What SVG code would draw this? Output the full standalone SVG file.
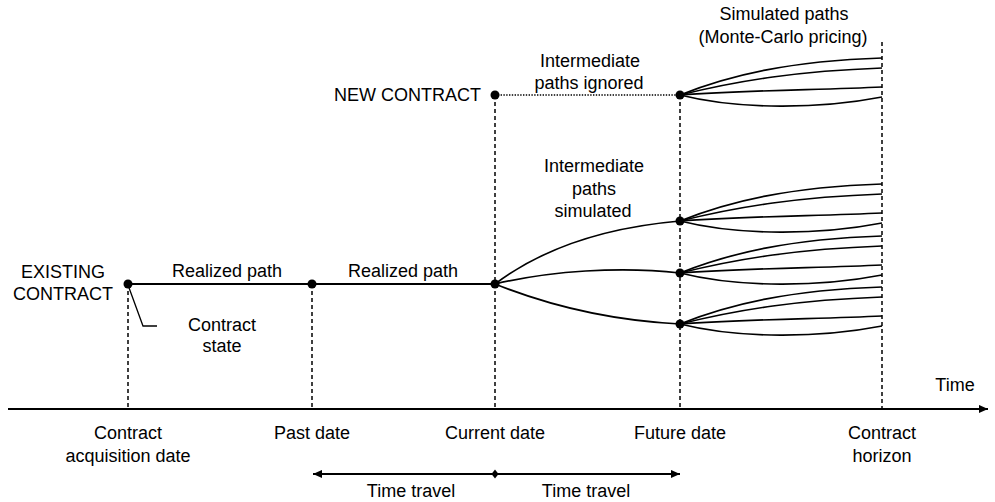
<svg xmlns="http://www.w3.org/2000/svg" xmlns:xlink="http://www.w3.org/1999/xlink" width="995" height="502" viewBox="0 0 995 502">
<style>
text{font-family:"Liberation Sans",Arial,sans-serif;font-size:18px;fill:#000;text-anchor:middle}
.end{text-anchor:end}
.dash{stroke:#000;stroke-width:1.5;stroke-dasharray:4 3;fill:none}
.solid{stroke:#000;stroke-width:2;fill:none}
.curve{stroke:#000;stroke-width:1.7;fill:none}
.dot{fill:#000}
.dotted{stroke:#000;stroke-width:1.3;stroke-dasharray:1.4 1.4;fill:none}
</style>
<defs>
<marker id="arrow" viewBox="0 0 10 10" refX="10" refY="5" markerUnits="userSpaceOnUse" markerWidth="9" markerHeight="9" orient="auto-start-reverse">
<path d="M0,0.5 L10,5 L0,9.5 z" fill="#000"/>
</marker>
<g id="fan" class="curve">
<path d="M0,0 C50,-20 110,-34 202,-37"/>
<path d="M0,0 C60,-15 120,-24 202,-27"/>
<path d="M0,0 C70,-5 140,-5 202,-8"/>
<path d="M0,0 C60,15 140,14 202,2"/>
</g>
</defs>

<g id="connectors">
<!-- vertical dashed guides -->
<line class="dash" x1="128" y1="284" x2="128" y2="408"/>
<line class="dash" x1="312" y1="284" x2="312" y2="408"/>
<line class="dash" x1="495" y1="95" x2="495" y2="408"/>
<line class="dash" x1="680" y1="95" x2="680" y2="408"/>
<line class="dash" x1="882" y1="42" x2="882" y2="408"/>
<!-- realized paths -->
<line class="solid" x1="128" y1="284" x2="495" y2="284"/>
<!-- ignored intermediate -->
<line class="dotted" x1="495" y1="95" x2="680" y2="95"/>
<!-- intermediate simulated -->
<path class="curve" d="M495,284 C540,250 600,228 680,221"/>
<path class="curve" d="M495,284 C550,271 620,266 680,273"/>
<path class="curve" d="M495,284 C540,302 600,320 680,324"/>
<!-- Monte-Carlo fans -->
<use xlink:href="#fan" transform="translate(680,95)"/>
<use xlink:href="#fan" transform="translate(680,221)"/>
<use xlink:href="#fan" transform="translate(680,273)"/>
<use xlink:href="#fan" transform="translate(680,324)"/>
<!-- contract state leader -->
<polyline fill="none" stroke="#000" stroke-width="1.3" points="128,285 143,326 157,326"/>
<!-- time axis -->
<line stroke="#000" stroke-width="2" x1="8" y1="409" x2="988" y2="409" marker-end="url(#arrow)"/>
<!-- time travel -->
<line stroke="#000" stroke-width="2" x1="313" y1="474" x2="680" y2="474" marker-start="url(#arrow)" marker-end="url(#arrow)"/>
<polygon points="495,469.5 498.5,474 495,478.5 491.5,474" fill="#000"/>
</g>

<g id="existing-contract">
<circle class="dot" cx="128" cy="284" r="4.5"/>
<text x="63" y="278">EXISTING</text>
<text x="63" y="300">CONTRACT</text>
</g>
<g id="contract-state">
<text x="222" y="331">Contract</text>
<text x="222" y="352">state</text>
</g>
<g id="realized-path-1"><text x="227" y="277">Realized path</text></g>
<g id="past-node"><circle class="dot" cx="312" cy="284" r="4.5"/></g>
<g id="realized-path-2"><text x="403" y="277">Realized path</text></g>
<g id="current-node"><circle class="dot" cx="495" cy="284" r="4.5"/></g>
<g id="new-contract">
<circle class="dot" cx="495" cy="95" r="4.5"/>
<text class="end" x="481" y="101">NEW CONTRACT</text>
</g>
<g id="paths-ignored">
<text x="590" y="67">Intermediate</text>
<text x="589" y="89">paths ignored</text>
</g>
<g id="future-node-new"><circle class="dot" cx="680" cy="95" r="4.5"/></g>
<g id="simulated-paths">
<text x="784" y="20">Simulated paths</text>
<text x="783" y="43">(Monte-Carlo pricing)</text>
</g>
<g id="paths-simulated">
<text x="594" y="172">Intermediate</text>
<text x="594" y="195">paths</text>
<text x="593" y="217">simulated</text>
</g>
<g id="future-node-1"><circle class="dot" cx="680" cy="221" r="4.5"/></g>
<g id="future-node-2"><circle class="dot" cx="680" cy="273" r="4.5"/></g>
<g id="future-node-3"><circle class="dot" cx="680" cy="324" r="4.5"/></g>

<g id="time-label"><text x="955" y="391">Time</text></g>
<g id="label-acquisition">
<text x="128" y="439">Contract</text>
<text x="128" y="462">acquisition date</text>
</g>
<g id="label-past"><text x="312" y="439">Past date</text></g>
<g id="label-current"><text x="495" y="439">Current date</text></g>
<g id="label-future"><text x="680" y="439">Future date</text></g>
<g id="label-horizon">
<text x="882" y="439">Contract</text>
<text x="882" y="462">horizon</text>
</g>
<g id="time-travel-back"><text x="411" y="497">Time travel</text></g>
<g id="time-travel-forward"><text x="586" y="497">Time travel</text></g>
</svg>
